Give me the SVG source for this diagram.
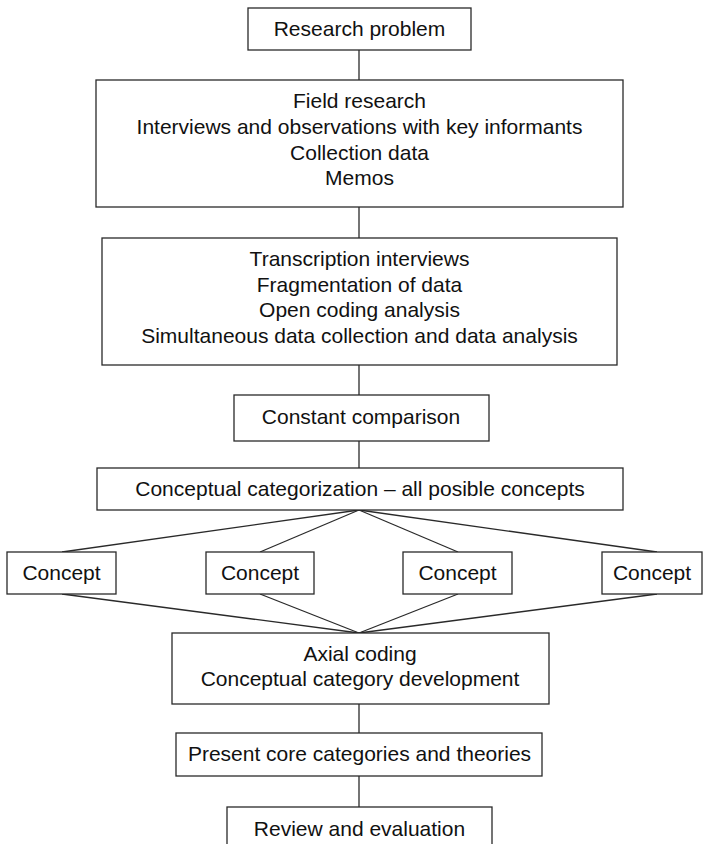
<svg xmlns="http://www.w3.org/2000/svg" width="704" height="844" viewBox="0 0 704 844">
  <style>
    .box { fill: #ffffff; stroke: #2a2a2a; stroke-width: 1.3; }
    .link { stroke: #2a2a2a; stroke-width: 1.3; fill: none; }
    text { font-family: "Liberation Sans", Arial, sans-serif; font-size: 21px; fill: #111111; text-anchor: middle; }
  </style>
  <rect width="704" height="844" fill="#ffffff"/>

  <!-- connectors -->
  <g id="connectors">
    <line class="link" x1="359" y1="50" x2="359" y2="80"/>
    <line class="link" x1="359" y1="207" x2="359" y2="238"/>
    <line class="link" x1="359" y1="365" x2="359" y2="395"/>
    <line class="link" x1="359" y1="441" x2="359" y2="468"/>
    <line class="link" x1="359" y1="510" x2="62" y2="552"/>
    <line class="link" x1="359" y1="510" x2="260" y2="552"/>
    <line class="link" x1="359" y1="510" x2="458" y2="552"/>
    <line class="link" x1="359" y1="510" x2="657" y2="552"/>
    <line class="link" x1="62" y1="594" x2="359" y2="633"/>
    <line class="link" x1="260" y1="594" x2="359" y2="633"/>
    <line class="link" x1="458" y1="594" x2="359" y2="633"/>
    <line class="link" x1="657" y1="594" x2="359" y2="633"/>
    <line class="link" x1="359" y1="704" x2="359" y2="733"/>
    <line class="link" x1="359" y1="776" x2="359" y2="807"/>
  </g>

  <g id="research-problem">
    <rect class="box" x="248" y="8" width="223" height="42"/>
    <text x="359.5" y="36">Research problem</text>
  </g>

  <g id="field-research">
    <rect class="box" x="96" y="80" width="527" height="127"/>
    <text x="359.5" y="108">Field research</text>
    <text x="359.5" y="134">Interviews and observations with key informants</text>
    <text x="359.5" y="160">Collection data</text>
    <text x="359.5" y="185">Memos</text>
  </g>

  <g id="transcription">
    <rect class="box" x="102" y="238" width="515" height="127"/>
    <text x="359.5" y="266">Transcription interviews</text>
    <text x="359.5" y="292">Fragmentation of data</text>
    <text x="359.5" y="317">Open coding analysis</text>
    <text x="359.5" y="343">Simultaneous data collection and data analysis</text>
  </g>

  <g id="constant-comparison">
    <rect class="box" x="234" y="395" width="255" height="46"/>
    <text x="361" y="424">Constant comparison</text>
  </g>

  <g id="conceptual-categorization">
    <rect class="box" x="97" y="468" width="526" height="42"/>
    <text x="360" y="496">Conceptual categorization – all posible concepts</text>
  </g>

  <g id="concept-1">
    <rect class="box" x="7" y="552" width="109" height="42"/>
    <text x="61.5" y="580">Concept</text>
  </g>
  <g id="concept-2">
    <rect class="box" x="206" y="552" width="108" height="42"/>
    <text x="260" y="580">Concept</text>
  </g>
  <g id="concept-3">
    <rect class="box" x="403" y="552" width="109" height="42"/>
    <text x="457.5" y="580">Concept</text>
  </g>
  <g id="concept-4">
    <rect class="box" x="602" y="552" width="100" height="42"/>
    <text x="652" y="580">Concept</text>
  </g>

  <g id="axial-coding">
    <rect class="box" x="172" y="633" width="377" height="71"/>
    <text x="360" y="661">Axial coding</text>
    <text x="360" y="686">Conceptual category development</text>
  </g>

  <g id="core-categories">
    <rect class="box" x="176" y="733" width="366" height="43"/>
    <text x="359.5" y="761">Present core categories and theories</text>
  </g>

  <g id="review">
    <rect class="box" x="227" y="807" width="265" height="50"/>
    <text x="359.5" y="836">Review and evaluation</text>
  </g>
</svg>
